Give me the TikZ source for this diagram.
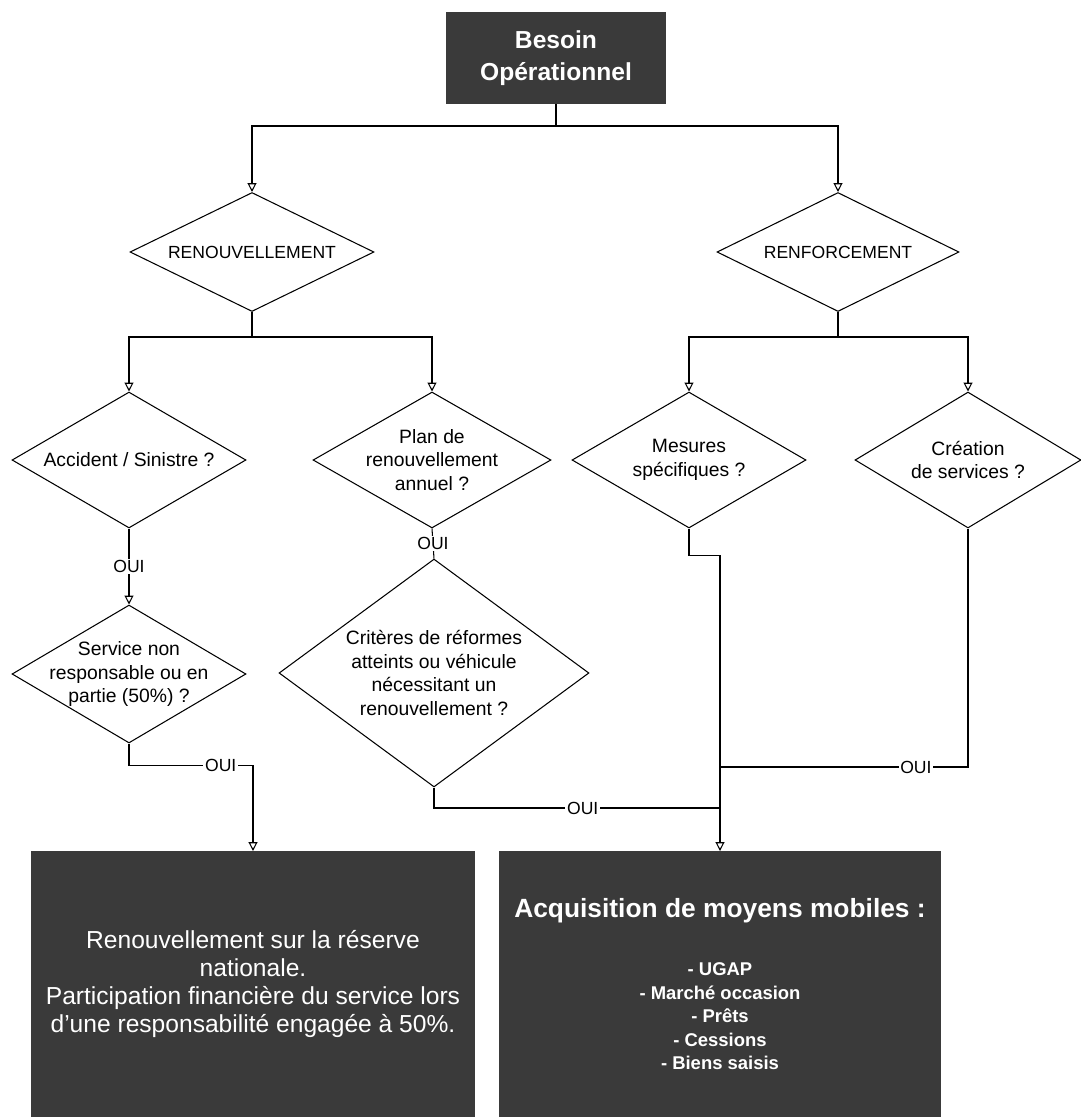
\documentclass[tikz,border=0pt]{standalone}
\usepackage{fontspec}
\setmainfont{Liberation Sans}
\usepackage{tikz}
\usetikzlibrary{shapes.geometric,arrows.meta}
\definecolor{boxgray}{HTML}{3A3A3A}

\begin{document}
\begin{tikzpicture}[x=0.02cm,y=-0.02cm,
        line width=0.6pt,
        arr/.style={-{Triangle[open,length=5pt,width=5pt]}},
        darkbox/.style={rectangle, fill=boxgray, draw=boxgray, text=white, align=center},
        decision/.style={diamond, draw, inner sep=-1cm, align=center, font=\fontsize{11}{13.6}\selectfont},
        oui/.style={fill=white, inner sep=1pt, font=\fontsize{10}{12}\selectfont}]
        \useasboundingbox (0,0) rectangle (1081,1117);

        % Top box
        \node[darkbox, minimum width=4.36cm, minimum height=1.82cm, font=\fontsize{14}{18}\selectfont\bfseries] (besoin) at (556,58) {Besoin\\Opérationnel};

        % First level
        \node[decision, minimum width=4.88cm, minimum height=2.38cm, font=\fontsize{10}{12}\selectfont] (renouv) at (252,252) {RENOUVELLEMENT};
        \node[decision, minimum width=4.84cm, minimum height=2.38cm, font=\fontsize{10}{12}\selectfont] (renfor) at (838,252) {RENFORCEMENT};

        % Second level
        \node[decision, minimum width=4.68cm, minimum height=2.72cm] (accident) at (129,460) {Accident / Sinistre ?};
        \node[decision, minimum width=4.76cm, minimum height=2.72cm] (plan) at (432,460) {Plan de\\renouvellement\\annuel ?};
        \node[decision, minimum width=4.68cm, minimum height=2.72cm] (mesures) at (689,460) {Mesures\\spécifiques ?};
        \node[decision, minimum width=4.52cm, minimum height=2.72cm] (creation) at (968,460) {Création\\de services ?};

        % Third level
        \node[decision, minimum width=4.68cm, minimum height=2.76cm] (service) at (129,674) {Service non\\responsable ou en\\partie (50\%) ?};
        \node[decision, minimum width=6.2cm, minimum height=4.56cm] (criteres) at (434,673) {Critères de réformes\\atteints ou véhicule\\nécessitant un\\renouvellement ?};

        % Result boxes
        \node[darkbox, minimum width=8.88cm, minimum height=5.3cm, font=\fontsize{14}{16}\selectfont] (reserve) at (253,984) {Renouvellement sur la réserve\\nationale.\\Participation financière du service lors\\d'une responsabilité engagée à 50\%.};
        \node[darkbox, minimum width=8.82cm, minimum height=5.3cm, font=\fontsize{10.5}{13.4}\selectfont\bfseries] (acquisition) at (720,984) {{\fontsize{15}{18}\selectfont Acquisition de moyens mobiles :}\\[0.7cm]
            - UGAP\\- Marché occasion\\- Prêts\\- Cessions\\- Biens saisis};

        % Junctions
        \coordinate (split1) at (556,126);
        \coordinate (split2) at (252,337);
        \coordinate (split3) at (838,337);
        \coordinate (jcreation) at (720,767);
        \coordinate (jcriteres) at (720,808);

        % Connectors
        \draw (besoin.south) -- (split1);
        \draw[arr] (split1) -| (renouv.north);
        \draw[arr] (split1) -| (renfor.north);
        \draw (renouv.south) -- (split2);
        \draw[arr] (split2) -| (accident.north);
        \draw[arr] (split2) -| (plan.north);
        \draw (renfor.south) -- (split3);
        \draw[arr] (split3) -| (mesures.north);
        \draw[arr] (split3) -| (creation.north);

        \draw[arr] (accident.south) -- node[oui] {OUI} (service.north);
        \draw (plan.south) -- node[oui] {OUI} (criteres.north);
        \draw[arr] (service.south) -- ++(0,22) -| node[oui, pos=0.37] {OUI} (reserve.north);
        \draw (criteres.south) |- node[oui, pos=0.76] {OUI} (jcriteres);
        \draw[arr] (mesures.south) -- ++(0,27) -| (acquisition.north);
        \draw (creation.south) |- node[oui, pos=0.605] {OUI} (jcreation);
    \end{tikzpicture}
\end{document}
